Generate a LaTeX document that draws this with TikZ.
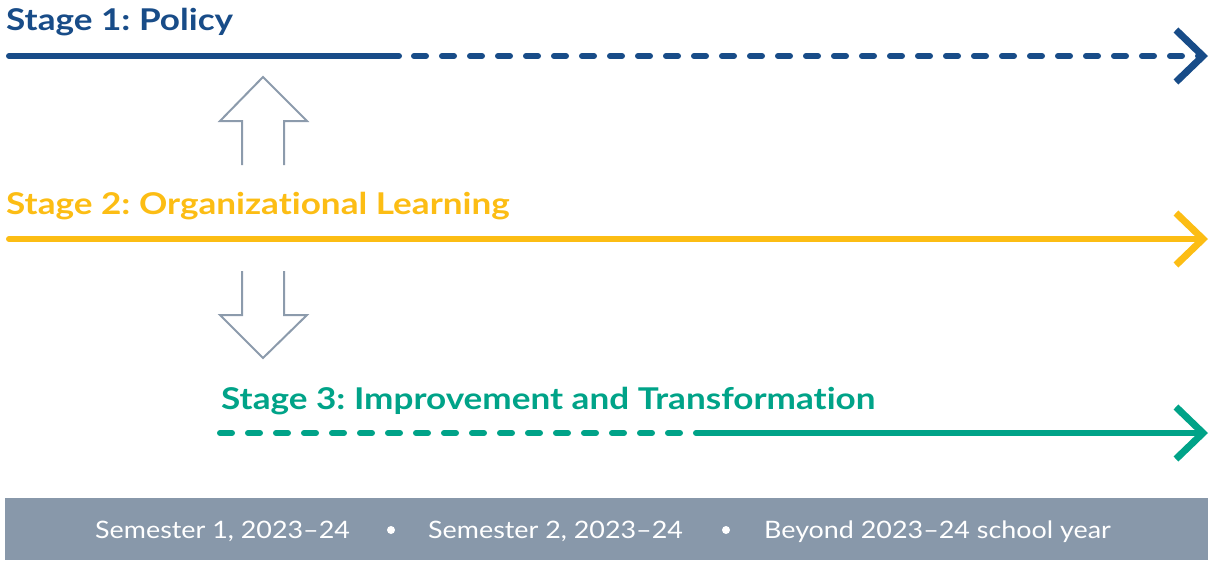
\documentclass[tikz,border=0pt]{standalone}
\usepackage{fontspec}
\setmainfont{Lato}
\newfontfamily\titlefont{Lato}[FakeStretch=1.17, Ligatures=NoCommon]
\newfontfamily\barfont{Lato}[FakeStretch=1.12, Ligatures=NoCommon]
\frenchspacing
\usetikzlibrary{arrows.meta}
\definecolor{pblue}{RGB}{24,76,136}
\definecolor{pyellow}{RGB}{252,189,20}
\definecolor{pteal}{RGB}{0,163,136}
\definecolor{pgray}{RGB}{136,152,170}
\definecolor{parrow}{RGB}{140,155,172}
\tikzset{
  stagetitle/.style={anchor=base west, inner sep=0pt, font=\titlefont\fontsize{30}{36}\bfseries\selectfont},
  stageline/.style={line width=6pt, line cap=round},
  dashline/.style={stageline, dash pattern=on 12pt off 16pt},
  chev/.style={-{Straight Barb[length=27pt, width=52pt, line width=7pt]}},
  hollow/.style={draw=parrow, line width=2pt, line join=miter},
  bartext/.style={anchor=base west, inner sep=0pt, text=white, font=\barfont\fontsize{24}{28}\selectfont}
}
\begin{document}
\begin{tikzpicture}[x=1pt,y=-1pt]
\path[use as bounding box] (0,0) rectangle (1211,560);
% Stage 1
\node[stagetitle, text=pblue] (t1) at (6,30) {Stage 1: Policy};
\coordinate (a1) at (9,56);
\coordinate (b1) at (399,56);
\coordinate (c1) at (414,56);
\coordinate (e1) at (1208,56);
\draw[stageline, pblue] (a1) -- (b1);
\draw[dashline, pblue] (c1) -- ([xshift=-10pt]e1);
\draw[stageline, pblue, line cap=butt, chev] ([xshift=-12pt]e1) -- (e1);
% up arrow
\coordinate (u0) at (263,77);
\draw[hollow] (242,165) -- (242,121) -- (220,121) -- (u0) -- (307,121) -- (284,121) -- (284,165);
% Stage 2
\node[stagetitle, text=pyellow] (t2) at (6,214) {Stage 2: Organizational Learning};
\coordinate (a2) at (9,239);
\coordinate (e2) at (1208,239);
\draw[stageline, pyellow, chev] (a2) -- (e2);
% down arrow
\coordinate (d0) at (263,358);
\draw[hollow] (242,271) -- (242,315) -- (220,315) -- (d0) -- (307,315) -- (284,315) -- (284,271);
% Stage 3
\node[stagetitle, text=pteal] (t3) at (221,409) {Stage 3: Improvement and Transformation};
\coordinate (a3) at (220,433);
\coordinate (b3) at (696,433);
\coordinate (e3) at (1208,433);
\draw[dashline, pteal] (a3) -- (b3);
\draw[stageline, pteal, line cap=butt, chev] (b3) -- (e3);
% bottom bar
\fill[pgray] (5,498) rectangle (1208,560);
\node[bartext] (s1) at (95,538) {Semester 1, 2023–24};
\fill[white] (391,530) circle (4pt);
\node[bartext] (s2) at (428,538) {Semester 2, 2023–24};
\fill[white] (726,530) circle (4pt);
\node[bartext] (s3) at (764,538) {Beyond 2023–24 school year};
\end{tikzpicture}
\end{document}
